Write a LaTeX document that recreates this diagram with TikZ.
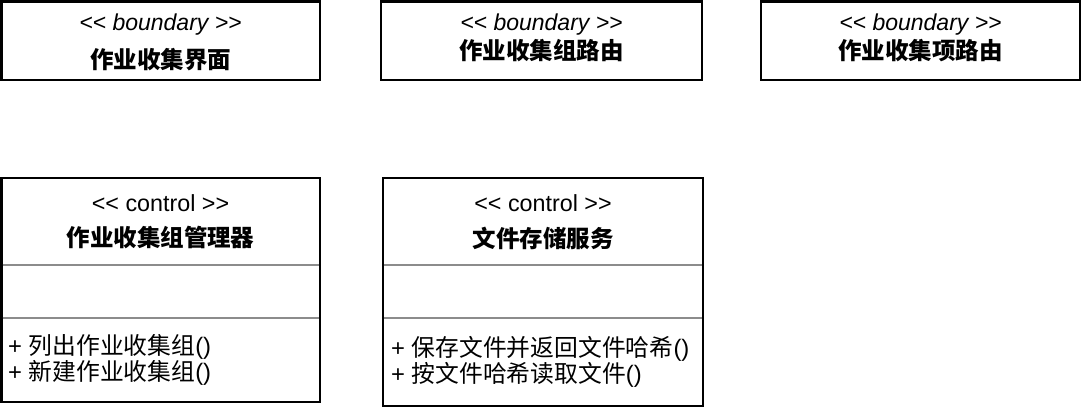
\documentclass[tikz,border=0pt]{standalone}
\usepackage{fontspec}
\setmainfont{Liberation Sans}
\newfontfamily\cjk{Noto Sans CJK SC}
\newcommand{\stl}{{<}{<}}
\newcommand{\stg}{{>}{>}}
\begin{document}
\begin{tikzpicture}[x=1pt,y=-1pt,
  umlbox/.style={draw=black,line width=2.2pt,fill=white},
  sep/.style={draw=black!45,line width=2pt},
  stereo/.style={font=\fontsize{23}{26}\selectfont\itshape,inner sep=0pt,anchor=center},
  stereoup/.style={font=\fontsize{23.3}{26}\selectfont,inner sep=0pt,anchor=center},
  cname/.style={font=\fontsize{23.5}{26}\selectfont\cjk\bfseries,inner sep=0pt,anchor=center},
  meth/.style={font=\fontsize{23.8}{24.5}\selectfont,inner sep=0pt,anchor=west,align=left}]
\useasboundingbox (0,0) rectangle (1082,408);
% top boundary boxes
\draw[umlbox] (1.5,1.5) rectangle (320,80);
\node[stereo] (b1s) at (160.5,25) {\stl{} boundary \stg};
\node[cname] (b1n) at (160.5,59.5) {作业收集界面};
\draw[umlbox] (381,1.5) rectangle (702,80);
\node[stereo] (b2s) at (541.5,25) {\stl{} boundary \stg};
\node[cname] (b2n) at (541.5,51) {作业收集组路由};
\draw[umlbox] (761,1.5) rectangle (1080,80);
\node[stereo] (b3s) at (920.5,25) {\stl{} boundary \stg};
\node[cname] (b3n) at (920.5,51) {作业收集项路由};
% control boxes
\draw[umlbox] (1.5,178) rectangle (320,402);
\draw[sep] (2.6,265) -- (319,265);
\draw[sep] (2.6,318) -- (319,318);
\node[stereoup] (c1s) at (160.5,203) {\stl{} control \stg};
\node[cname] (c1n) at (160.5,238) {作业收集组管理器};
\node[meth] (c1m) at (8,360) {+ {\cjk 列出作业收集组}()\\+ {\cjk 新建作业收集组}()};
\draw[umlbox] (383,178) rectangle (703,406);
\draw[sep] (384,265) -- (702,265);
\draw[sep] (384,318) -- (702,318);
\node[stereoup] (c2s) at (543,203) {\stl{} control \stg};
\node[cname] (c2n) at (543,238.5) {文件存储服务};
\node[meth] (c2m) at (391,361.5) {+ {\cjk 保存文件并返回文件哈希}()\\+ {\cjk 按文件哈希读取文件}()};
\end{tikzpicture}
\end{document}
